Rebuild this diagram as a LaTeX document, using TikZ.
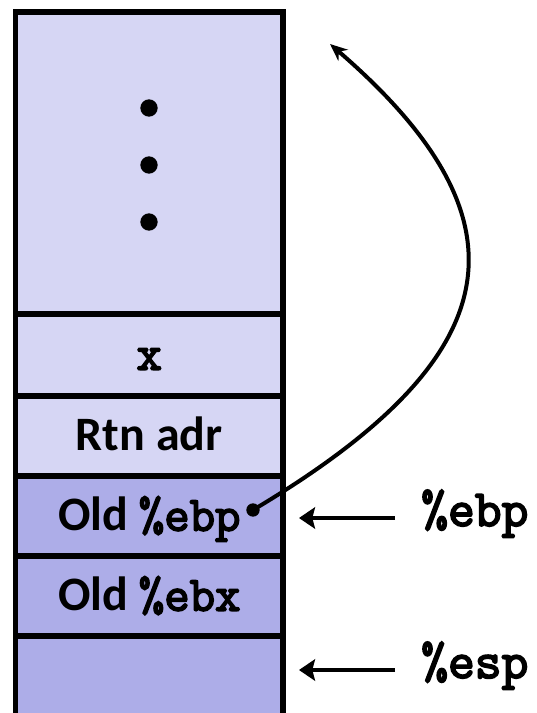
\documentclass[tikz,border=0pt]{standalone}
\usepackage{fontspec}
\setmainfont{Carlito}
\setmonofont{Latin Modern Mono}[AutoFakeBold=3.5]
\usetikzlibrary{arrows.meta,positioning}
\definecolor{stackLight}{HTML}{D6D6F4}
\definecolor{stackDark}{HTML}{ADADE8}

\begin{document}
\begin{tikzpicture}[
    x=0.75pt, y=-0.75pt,
    font=\fontsize{36}{42}\selectfont\bfseries,
    cell/.style={draw, line width=3.8pt, outer sep=0pt, inner sep=0pt, minimum width=200.6pt, minimum height=60pt, text height=22pt, text depth=0pt, align=center},
    reg/.style={inner sep=0pt, anchor=base west, font=\fontsize{39}{44}\selectfont\ttfamily\bfseries},
    ptr/.style={-{Stealth[length=12pt, width=16pt, inset=2pt]}, line width=3.5pt, shorten >=12pt},
    link/.style={-{Stealth[length=13pt, width=11pt]}, line width=3pt},
    bigdot/.style={circle, fill=black, inner sep=0pt, minimum size=13pt},
    smalldot/.style={circle, fill=black, inner sep=0pt, minimum size=10pt}
]
    \useasboundingbox (0,0) rectangle (536,713);

    % stack frame cells
    \node[cell, fill=stackLight, minimum height=226.5pt] (frame) at (149.25,163) {};
    \node[cell, fill=stackLight, minimum height=61.5pt, below=0pt of frame] (argx) {\fontsize{37}{42}\selectfont\texttt{x}};
    \node[cell, fill=stackLight, below=0pt of argx] (rtn) {Rtn adr};
    \node[cell, fill=stackDark, below=0pt of rtn] (oldebp) {Old {\fontsize{37}{42}\selectfont\texttt{\%ebp}}};
    \node[cell, fill=stackDark, below=0pt of oldebp] (oldebx) {Old {\fontsize{37}{42}\selectfont\texttt{\%ebx}}};
    \node[cell, fill=stackDark, minimum height=63pt, below=0pt of oldebx] (top) {};

    \foreach \y [count=\i] in {108,165,222}
        \node[bigdot] (vdot\i) at (149,\y) {};

    % saved frame pointer
    \node[smalldot] (ebpdot) at (253,510) {};
    \coordinate (callerebp) at (330,44);
    \draw[link] (ebpdot.center) .. controls (505,360) and (540,225) .. (callerebp);

    % registers
    \coordinate (ebptail) at (395,518);
    \coordinate (esptail) at (395,670);
    \node[reg] (ebplbl) at (421,526) {\%ebp};
    \node[reg] (esplbl) at (421,678) {\%esp};
    \draw[ptr] (ebptail) -- (ebptail -| oldebp.east);
    \draw[ptr] (esptail) -- (esptail -| top.east);
\end{tikzpicture}
\end{document}
